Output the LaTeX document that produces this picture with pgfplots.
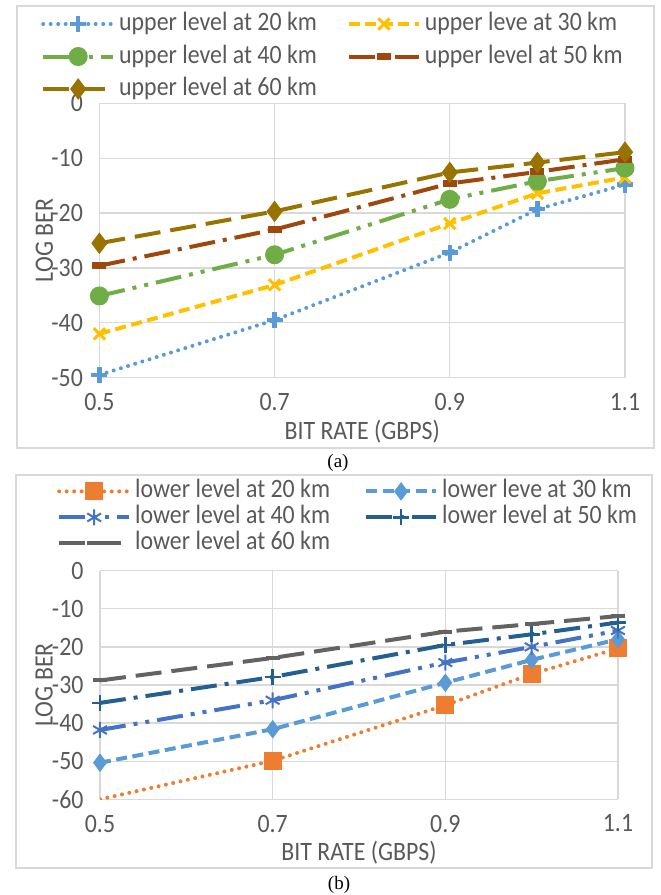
\documentclass[border=0pt]{standalone}
\usepackage{pgfplots}
\pgfplotsset{compat=1.18}
\usepackage{fontspec}
\setmainfont{Carlito}[FakeStretch=0.9]
\newfontfamily\capfont{Liberation Serif}
\definecolor{s20a}{HTML}{5B9BD5}
\definecolor{s30a}{HTML}{FFC000}
\definecolor{s40a}{HTML}{70AD47}
\definecolor{s50a}{HTML}{9E480E}
\definecolor{s60a}{HTML}{997300}
\definecolor{s20b}{HTML}{ED7D31}
\definecolor{s30b}{HTML}{5B9BD5}
\definecolor{s40b}{HTML}{4472C4}
\definecolor{s50b}{HTML}{255E91}
\definecolor{s60b}{HTML}{636363}
\definecolor{txt}{HTML}{595959}
\definecolor{grd}{HTML}{D9D9D9}
\newcommand{\fs}{\fontsize{26.5}{30}\selectfont}
\pgfplotsset{
  excel/.style={
    scale only axis, axis line style={draw=none}, grid=major,
    major grid style={grd, line width=1.3pt},
    major tick length=0pt, tick style={draw=none},
    xmin=0.5, xmax=1.1, xtick={0.5,0.7,0.9,1.1}, xticklabels={0.5,0.7,0.9,1.1},
    tick label style={font=\fs, text=txt},
    label style={font=\fs, text=txt},
    /pgf/number format/assume math mode=true,
    xticklabel style={yshift=-12pt},
    yticklabel style={xshift=-13pt},
    xlabel={BIT RATE (GBPS)}, ylabel={LOG BER},
    legend columns=2, legend cell align=left,
    legend image code/.code={\draw[##1, mark indices={2}] plot coordinates {(0pt,0pt) (35pt,0pt) (70pt,0pt)};},
  },
  ln/.style={line width=4pt},
  dots/.style={line cap=round, dash pattern=on 0pt off 7.5pt},
  dsh/.style={dash pattern=on 11pt off 5.5pt},
  ldash/.style={dash pattern=on 26pt off 10pt},
  ldd/.style={dash pattern=on 26pt off 8pt on 4pt off 8pt},
  lddd/.style={dash pattern=on 26pt off 8pt on 4pt off 8pt on 4pt off 8pt},
}
\begin{document}
\begin{tikzpicture}
\path[use as bounding box] (0pt,0pt) rectangle (661pt,-895pt);
\draw[grd, line width=1.3pt] (17pt,-6pt) rectangle (654pt,-448pt);
\draw[grd, line width=1.3pt] (16pt,-475pt) rectangle (652pt,-868pt);
\node[font=\capfont\fontsize{19}{22}\selectfont] at (338pt,-463pt) {(a)};
\node[font=\capfont\fontsize{19}{22}\selectfont] at (339pt,-885pt) {(b)};

\begin{axis}[excel,
  at={(99.4pt,-377.7pt)}, anchor=south west,
  width=525.6pt, height=274.4pt,
  ymin=-50, ymax=0, ytick={-50,-40,...,0},
  xlabel style={at={(axis description cs:0.5,-0.198)}, anchor=center},
  ylabel style={at={(axis description cs:-0.1046,0.5)}, anchor=center},
  legend style={at={(axis description cs:0,1)}, anchor=north west,
    xshift=-58.4pt, yshift=91pt, draw=none, fill=none, inner sep=0pt,
    font=\fs, text=txt,
    nodes={inner sep=0pt, text height=18pt, text depth=5pt},
    row sep=9.5pt,
    /tikz/every odd column/.append style={column sep=4pt},
    /tikz/every even column/.append style={column sep=30pt}},
]
\addplot[s20a, ln, dots, mark=+, mark size=8pt, mark options={solid, line width=4.5pt, line cap=butt}]
  coordinates {(0.5,-49.5) (0.7,-39.5) (0.9,-27.2) (1.0,-19.3) (1.1,-14.8)};
\addlegendentry{upper level at 20 km}
\addplot[s30a, ln, dsh, mark=x, mark size=8pt, mark options={solid, line width=3pt}]
  coordinates {(0.5,-42.0) (0.7,-33.1) (0.9,-21.9) (1.0,-16.4) (1.1,-13.5)};
\addlegendentry{upper leve at 30 km}
\addplot[s40a, ln, lddd, mark=*, mark size=9pt, mark options={solid, fill=s40a, line width=1pt}]
  coordinates {(0.5,-35.1) (0.7,-27.6) (0.9,-17.5) (1.0,-14.2) (1.1,-11.8)};
\addlegendentry{upper level at 40 km}
\addplot[s50a, ln, ldd, mark=-, mark size=7pt, mark options={solid, line width=7pt}]
  coordinates {(0.5,-29.6) (0.7,-23.0) (0.9,-14.6) (1.0,-12.5) (1.1,-10.2)};
\addlegendentry{upper level at 50 km}
\addplot[s60a, ln, ldash, mark=diamond*, mark size=10pt, mark options={solid, fill=s60a, line width=1pt}]
  coordinates {(0.5,-25.5) (0.7,-19.7) (0.9,-12.6) (1.0,-10.8) (1.1,-8.9)};
\addlegendentry{upper level at 60 km}
\end{axis}

\begin{axis}[excel,
  at={(100pt,-799.3pt)}, anchor=south west,
  width=518pt, height=228.6pt,
  ymin=-60, ymax=0, ytick={-60,-50,...,0},
  xlabel style={at={(axis description cs:0.5,-0.2336)}, anchor=center},
  ylabel style={at={(axis description cs:-0.108,0.5)}, anchor=center},
  legend style={at={(axis description cs:0,1)}, anchor=north west,
    xshift=-43pt, yshift=91pt, draw=none, fill=none, inner sep=0pt,
    font=\fs, text=txt,
    nodes={inner sep=0pt, text height=18pt, text depth=5pt},
    row sep=3pt,
    /tikz/every odd column/.append style={column sep=4pt},
    /tikz/every even column/.append style={column sep=34pt}},
]
\addplot[s20b, ln, dots, mark=square*, mark size=8.5pt, mark indices={2,3,4,5}, mark options={solid, fill=s20b, line width=1pt}]
  coordinates {(0.5,-60.0) (0.7,-49.9) (0.9,-35.3) (1.0,-27.1) (1.1,-20.4)};
\addlegendentry{lower level at 20 km}
\addplot[s30b, ln, dsh, mark=diamond*, mark size=8.5pt, mark options={solid, fill=s30b, line width=1pt}]
  coordinates {(0.5,-50.4) (0.7,-41.6) (0.9,-29.4) (1.0,-23.4) (1.1,-18.0)};
\addlegendentry{lower leve at 30 km}
\addplot[s40b, ln, lddd, mark=asterisk, mark size=8pt, mark options={solid, line width=2pt}]
  coordinates {(0.5,-41.8) (0.7,-34.0) (0.9,-24.1) (1.0,-20.0) (1.1,-15.7)};
\addlegendentry{lower level at 40 km}
\addplot[s50b, ln, ldd, mark=+, mark size=8pt, mark options={solid, line width=2.5pt}]
  coordinates {(0.5,-34.7) (0.7,-27.9) (0.9,-19.5) (1.0,-16.7) (1.1,-13.6)};
\addlegendentry{lower level at 50 km}
\addplot[s60b, ln, ldash, mark=-, mark size=7pt, mark options={solid, line width=4pt}]
  coordinates {(0.5,-28.8) (0.7,-22.9) (0.9,-16.0) (1.0,-14.0) (1.1,-11.9)};
\addlegendentry{lower level at 60 km}
\end{axis}
\end{tikzpicture}
\end{document}
